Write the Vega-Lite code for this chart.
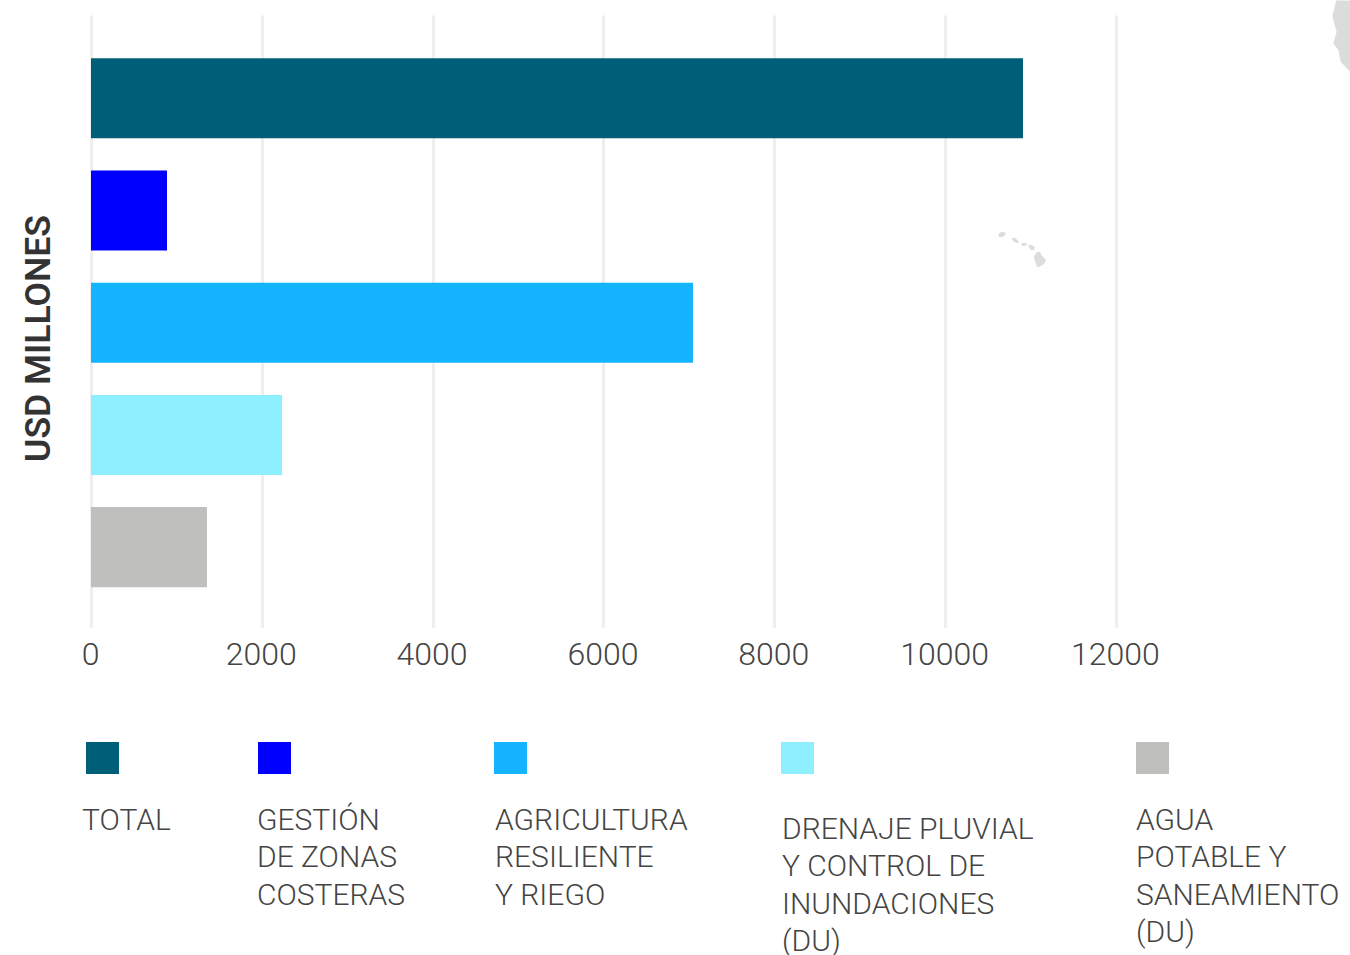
{"$schema":"https://vega.github.io/schema/vega-lite/v6.json","padding":{"left":21,"top":0,"right":0,"bottom":0},"autosize":{"type":"pad"},"background":"white","bounds":"flush","spacing":0,"config":{"view":{"stroke":null},"font":"Roboto"},"datasets":{"inv":[{"cat":"TOTAL","valor":10913,"orden":1,"label":"TOTAL"},{"cat":"GESTIÓN DE ZONAS COSTERAS","valor":890,"orden":2,"label":"GESTIÓN\nDE ZONAS\nCOSTERAS"},{"cat":"AGRICULTURA RESILIENTE Y RIEGO","valor":7049,"orden":3,"label":"AGRICULTURA\nRESILIENTE\nY RIEGO"},{"cat":"DRENAJE PLUVIAL Y CONTROL DE INUNDACIONES (DU)","valor":2237,"orden":4,"label":"DRENAJE PLUVIAL\nY CONTROL DE\nINUNDACIONES\n(DU)"},{"cat":"AGUA POTABLE Y SANEAMIENTO (DU)","valor":1358,"orden":5,"label":"AGUA\nPOTABLE Y\nSANEAMIENTO\n(DU)"}],"mapa":[{"parte":"costa","lat":48.6,"lon":-121.35,"lon2":-119.74},{"parte":"costa","lat":47.9,"lon":-121.5,"lon2":-119.74},{"parte":"costa","lat":46.83,"lon":-121.77,"lon2":-119.74},{"parte":"costa","lat":45.91,"lon":-121.54,"lon2":-119.74},{"parte":"costa","lat":45.02,"lon":-121.27,"lon2":-119.74},{"parte":"costa","lat":43.69,"lon":-121.66,"lon2":-119.74},{"parte":"costa","lat":42.92,"lon":-121.08,"lon2":-119.74},{"parte":"costa","lat":41.57,"lon":-120.81,"lon2":-119.74},{"parte":"costa","lat":40.82,"lon":-120.12,"lon2":-119.74},{"parte":"costa","lat":40.43,"lon":-119.74,"lon2":-119.74},{"parte":"kauai","lat":22,"lon":-159.86,"lon2":-159.51},{"parte":"kauai","lat":21.77,"lon":-160.14,"lon2":-159.28},{"parte":"kauai","lat":21.43,"lon":-160.09,"lon2":-159.63},{"parte":"oahu","lat":21.31,"lon":-158.59,"lon2":-158.25},{"parte":"oahu","lat":21.02,"lon":-158.53,"lon2":-157.9},{"parte":"oahu","lat":20.74,"lon":-158.13,"lon2":-157.79},{"parte":"molokai","lat":20.74,"lon":-157.44,"lon2":-156.98},{"parte":"molokai","lat":20.56,"lon":-157.5,"lon2":-156.87},{"parte":"molokai","lat":20.39,"lon":-157.44,"lon2":-157.1},{"parte":"maui","lat":20.51,"lon":-156.75,"lon2":-156.29},{"parte":"maui","lat":20.22,"lon":-156.64,"lon2":-155.95},{"parte":"maui","lat":19.93,"lon":-156.41,"lon2":-156.06},{"parte":"hawaii","lat":19.7,"lon":-155.72,"lon2":-155.37},{"parte":"hawaii","lat":19.24,"lon":-156.06,"lon2":-155.14},{"parte":"hawaii","lat":18.78,"lon":-156.0,"lon2":-154.68},{"parte":"hawaii","lat":18.32,"lon":-155.83,"lon2":-154.91},{"parte":"hawaii","lat":17.98,"lon":-155.72,"lon2":-155.49}]},"vconcat":[{"width":1259,"height":612,"layer":[{"data":{"name":"mapa"},"mark":{"type":"area","orient":"horizontal","color":"#dcdcdc","clip":false},"encoding":{"y":{"field":"lat","type":"quantitative","scale":{"domain":[-23.4,46.94],"nice":false,"zero":false},"axis":null},"x":{"field":"lon","type":"quantitative","scale":{"domain":[-264.45,-119.74],"nice":false,"zero":false},"axis":null},"x2":{"field":"lon2"},"detail":{"field":"parte"}}},{"data":{"name":"inv"},"mark":{"type":"bar"},"encoding":{"y":{"field":"cat","type":"nominal","sort":{"field":"orden"},"scale":{"paddingInner":0.287,"paddingOuter":0.37,"align":0.52},"axis":{"title":"USD MILLONES","labels":false,"ticks":false,"domain":false,"grid":false,"titleFontSize":35.5,"titleFontWeight":600,"titleColor":"#333333","titleFont":"Roboto","titleY":323,"titleX":-35}},"x":{"field":"valor","type":"quantitative","scale":{"domain":[0,14742],"nice":false},"axis":{"values":[0,2000,4000,6000,8000,10000,12000],"format":"d","title":null,"ticks":false,"domain":false,"grid":true,"gridColor":"#eeeeee","gridWidth":3,"labelFontSize":32,"labelFont":"Roboto","labelFontWeight":300,"labelColor":"#444444","labelPadding":12,"labelOverlap":false,"labelFlush":false,"labelOffset":-1}},"color":{"field":"cat","type":"nominal","sort":{"field":"orden"},"scale":{"range":["#005f78","#0000ff","#14b4ff","#8eefff","#bfbfbd"]},"legend":null}}}],"resolve":{"scale":{"x":"independent","y":"independent"}}},{"width":1259,"height":328,"data":{"name":"inv"},"layer":[{"mark":{"type":"rect","width":33,"height":32},"encoding":{"x":{"field":"orden","type":"quantitative","scale":{"domain":[1,2,3,4,5],"range":[11.5,183.5,419.5,706.5,1061.5],"nice":false,"zero":false},"axis":null},"y":{"datum":0,"type":"quantitative","scale":{"domain":[0,1],"range":[131,203],"nice":false,"zero":false},"axis":null},"color":{"field":"cat","type":"nominal","sort":{"field":"orden"},"scale":{"range":["#005f78","#0000ff","#14b4ff","#8eefff","#bfbfbd"]},"legend":null}}},{"transform":[{"filter":"datum.orden != 4"}],"mark":{"type":"text","align":"left","baseline":"alphabetic","lineBreak":"\n","lineHeight":37.3,"fontSize":30,"fontWeight":300,"font":"Roboto","color":"#444444"},"encoding":{"x":{"field":"orden","type":"quantitative","scale":{"domain":[1,2,3,4,5],"range":[-9,166,404,691,1045],"nice":false,"zero":false},"axis":null},"y":{"datum":1,"type":"quantitative","scale":{"domain":[0,1],"range":[131,203],"nice":false,"zero":false},"axis":null},"text":{"field":"label"}}},{"transform":[{"filter":"datum.orden == 4"}],"mark":{"type":"text","align":"left","baseline":"alphabetic","lineBreak":"\n","lineHeight":37.3,"fontSize":30,"fontWeight":300,"font":"Roboto","color":"#444444","dy":9},"encoding":{"x":{"field":"orden","type":"quantitative","scale":{"domain":[1,2,3,4,5],"range":[-9,166,404,691,1045],"nice":false,"zero":false},"axis":null},"y":{"datum":1,"type":"quantitative","scale":{"domain":[0,1],"range":[131,203],"nice":false,"zero":false},"axis":null},"text":{"field":"label"}}}],"resolve":{"scale":{"x":"independent"}}}]}
